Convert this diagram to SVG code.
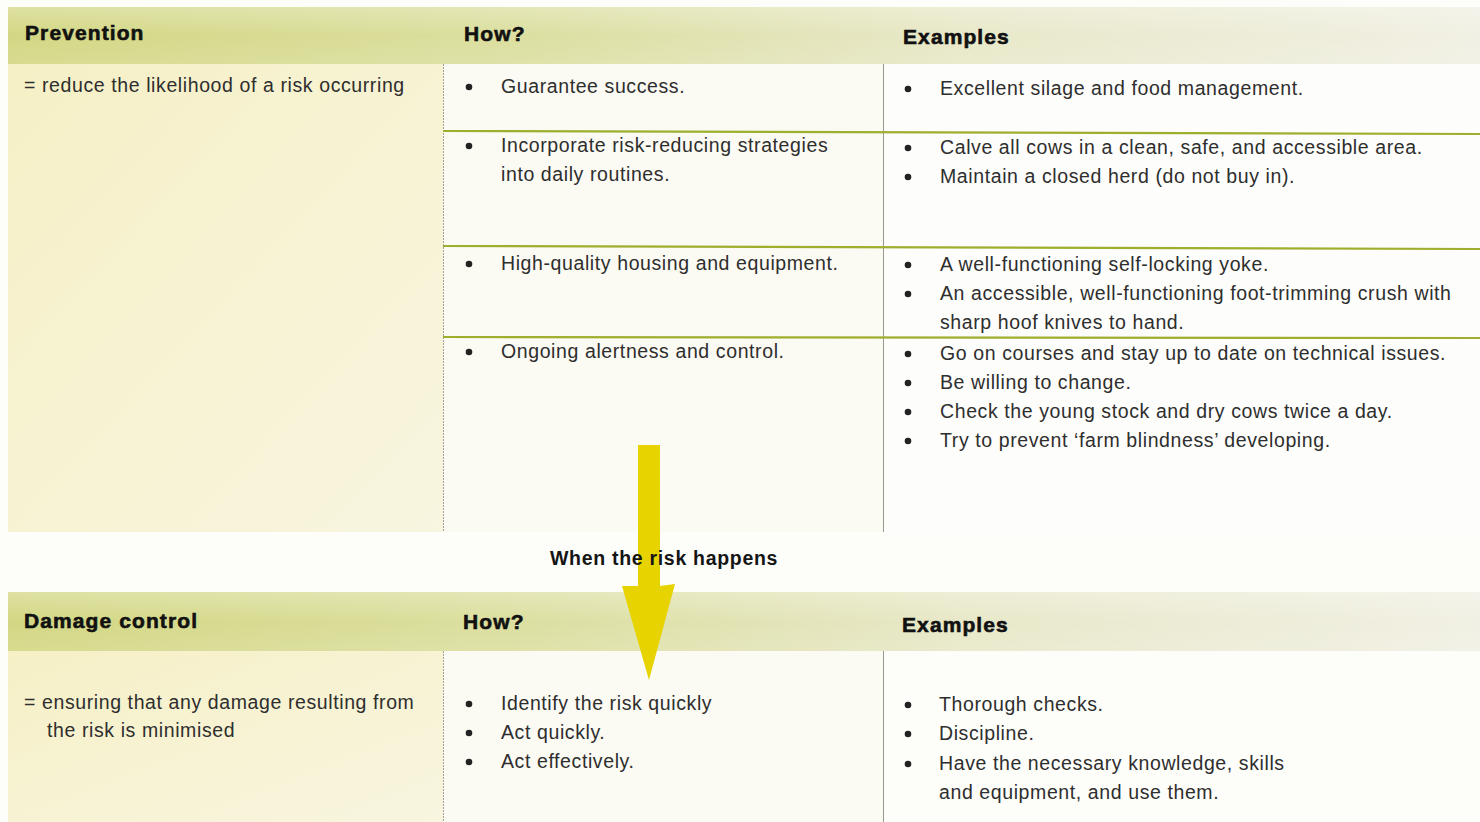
<svg xmlns="http://www.w3.org/2000/svg" width="1480" height="822" viewBox="0 0 1480 822">
<defs>
<linearGradient id="hdr" x1="0" y1="0" x2="1" y2="0">
<stop offset="0" stop-color="#d3d783"/>
<stop offset="0.35" stop-color="#dcdfa0"/>
<stop offset="0.65" stop-color="#e8e8c9"/>
<stop offset="1" stop-color="#f1f0e4"/>
</linearGradient>
<linearGradient id="leftcol" x1="0" y1="0" x2="1" y2="1">
<stop offset="0" stop-color="#f6f0c6"/>
<stop offset="1" stop-color="#f8f5e0"/>
</linearGradient>
<linearGradient id="hdrfade" x1="0" y1="0" x2="0" y2="1">
<stop offset="0" stop-color="#ffffff" stop-opacity="0.25"/>
<stop offset="0.5" stop-color="#ffffff" stop-opacity="0"/>
<stop offset="1" stop-color="#ffffff" stop-opacity="0.1"/>
</linearGradient>
</defs>
<style>
.h{font-family:"Liberation Sans",Arial,sans-serif;font-weight:bold;font-size:21px;fill:#111;stroke:#111;stroke-width:0.6;letter-spacing:1.1px}
.t{font-family:"Liberation Sans",Arial,sans-serif;font-size:19.5px;fill:#2e2e2e;letter-spacing:0.6px}
.lab{font-family:"Liberation Sans",Arial,sans-serif;font-weight:bold;font-size:19.5px;fill:#151515;letter-spacing:0.7px}
.b{fill:#222}
.div{stroke:#9a9a8c;stroke-width:1}
.dot{stroke:#a4a496;stroke-width:1;stroke-dasharray:2 1}
.grn{stroke:#9fae2c;stroke-width:2.2}
</style>
<rect width="1480" height="822" fill="#fdfdfa"/>

<g id="prevention">
<rect x="8" y="7" width="1472" height="57" fill="url(#hdr)"/>
<rect x="8" y="7" width="1472" height="57" fill="url(#hdrfade)"/>
<rect x="8" y="64" width="435" height="468" fill="url(#leftcol)"/>
<rect x="443" y="64" width="440" height="468" fill="#fbfaf3"/>
<rect x="883" y="64" width="597" height="468" fill="#fdfdfb"/>
<text class="h" x="25" y="40">Prevention</text>
<text class="h" x="464" y="41">How?</text>
<text class="h" x="903" y="44">Examples</text>
<line class="dot" x1="443.5" y1="64" x2="443.5" y2="532"/>
<line class="div" x1="883.5" y1="64" x2="883.5" y2="532"/>
<line class="grn" x1="443" y1="131" x2="1480" y2="134"/>
<line class="grn" x1="443" y1="246" x2="1480" y2="249"/>
<line class="grn" x1="443" y1="337" x2="1480" y2="338"/>
<text class="t" x="24" y="92">= reduce the likelihood of a risk occurring</text>
<g class="b">
<circle cx="469" cy="87" r="3.3"/><circle cx="469" cy="146" r="3.3"/><circle cx="469" cy="264" r="3.3"/><circle cx="469" cy="352" r="3.3"/>
<circle cx="908" cy="89" r="3.3"/><circle cx="908" cy="148" r="3.3"/><circle cx="908" cy="177" r="3.3"/><circle cx="908" cy="265" r="3.3"/><circle cx="908" cy="294" r="3.3"/>
<circle cx="908" cy="354" r="3.3"/><circle cx="908" cy="383" r="3.3"/><circle cx="908" cy="412" r="3.3"/><circle cx="908" cy="441" r="3.3"/>
</g>
<g class="t">
<text x="501" y="93">Guarantee success.</text>
<text x="501" y="152">Incorporate risk-reducing strategies</text>
<text x="501" y="181">into daily routines.</text>
<text x="501" y="270">High-quality housing and equipment.</text>
<text x="501" y="358">Ongoing alertness and control.</text>
<text x="940" y="95">Excellent silage and food management.</text>
<text x="940" y="154">Calve all cows in a clean, safe, and accessible area.</text>
<text x="940" y="183">Maintain a closed herd (do not buy in).</text>
<text x="940" y="271">A well-functioning self-locking yoke.</text>
<text x="940" y="300">An accessible, well-functioning foot-trimming crush with</text>
<text x="940" y="329">sharp hoof knives to hand.</text>
<text x="940" y="360">Go on courses and stay up to date on technical issues.</text>
<text x="940" y="389">Be willing to change.</text>
<text x="940" y="418">Check the young stock and dry cows twice a day.</text>
<text x="940" y="447">Try to prevent ‘farm blindness’ developing.</text>
</g>
</g>

<g id="damage-control">
<rect x="8" y="592" width="1472" height="59" fill="url(#hdr)"/>
<rect x="8" y="592" width="1472" height="59" fill="url(#hdrfade)"/>
<rect x="8" y="651" width="435" height="171" fill="url(#leftcol)"/>
<rect x="443" y="651" width="440" height="171" fill="#fbfaf3"/>
<text class="h" x="24" y="628">Damage control</text>
<text class="h" x="463" y="629">How?</text>
<text class="h" x="902" y="632">Examples</text>
<line class="dot" x1="443.5" y1="651" x2="443.5" y2="822"/>
<line class="div" x1="883.5" y1="651" x2="883.5" y2="822"/>
<text class="t" x="24" y="709">= ensuring that any damage resulting from</text>
<text class="t" x="47" y="737">the risk is minimised</text>
<g class="b">
<circle cx="469" cy="704" r="3.3"/><circle cx="469" cy="733" r="3.3"/><circle cx="469" cy="762" r="3.3"/>
<circle cx="908" cy="705" r="3.3"/><circle cx="908" cy="734" r="3.3"/><circle cx="908" cy="764" r="3.3"/>
</g>
<g class="t">
<text x="501" y="710">Identify the risk quickly</text>
<text x="501" y="739">Act quickly.</text>
<text x="501" y="768">Act effectively.</text>
<text x="939" y="711">Thorough checks.</text>
<text x="939" y="740">Discipline.</text>
<text x="939" y="770">Have the necessary knowledge, skills</text>
<text x="939" y="799">and equipment, and use them.</text>
</g>
</g>

<g id="connectors">
<polygon points="638,445 660,445 660,586 675,584 649,680 622,586 638,586" fill="#e6d300"/>
<text class="lab" x="550" y="565">When the risk happens</text>
</g>
</svg>
